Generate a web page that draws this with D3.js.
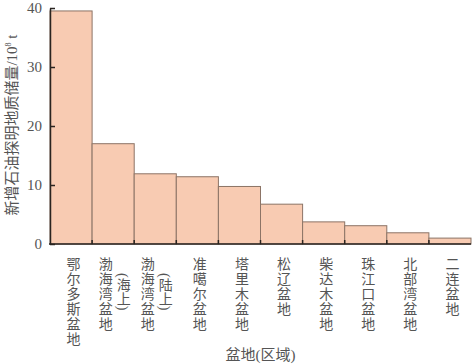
<!DOCTYPE html>
<html>
<head>
<meta charset="utf-8">
<script src="https://cdn.jsdelivr.net/npm/d3@7"></script>
<style>
    body { margin: 0; background: #fff; }
    svg { display: block; }
</style>
</head>
<body>
<div id="chart"></div>
<script>
// Data
const basins = ["鄂尔多斯盆地", "渤海湾盆地", "渤海湾盆地", "准噶尔盆地", "塔里木盆地",
    "松辽盆地", "柴达木盆地", "珠江口盆地", "北部湾盆地", "二连盆地"];
const subLabels = ["", "(海上)", "(陆上)", "", "", "", "", "", "", ""];
const reserves = [39.5, 17.0, 11.9, 11.4, 9.75, 6.75, 3.75, 3.1, 1.9, 1.0];
const yTicks = [0, 10, 20, 30, 40];

const colors = {
    bar: "#f8cbb2",
    barStroke: "#8c7466",
    axis: "#2a2420",
    text: "#555"
};

const W = 474, H = 364;
const margin = { top: 8, right: 3, bottom: 120, left: 50 };
const width = W - margin.left - margin.right;
const height = H - margin.top - margin.bottom;
const cjk = "'Liberation Serif', 'Noto Sans CJK SC', serif";

const svg = d3.select("#chart").append("svg")
    .attr("width", W)
    .attr("height", H)
    .append("g")
    .attr("transform", `translate(${margin.left},${margin.top})`);

const x = d3.scaleBand()
    .domain(d3.range(basins.length))
    .range([0, width])
    .padding(0);

const y = d3.scaleLinear()
    .domain([0, 40])
    .range([height, 0]);

// Bars
svg.selectAll("rect.bar")
    .data(reserves)
    .join("rect")
    .attr("class", "bar")
    .attr("x", (d, i) => x(i))
    .attr("y", d => y(d))
    .attr("width", x.bandwidth())
    .attr("height", d => height - y(d))
    .attr("fill", colors.bar)
    .attr("stroke", colors.barStroke)
    .attr("stroke-width", 1);

// Y axis (ticks inward)
const yAxis = svg.append("g")
    .call(d3.axisLeft(y).tickValues(yTicks).tickSizeInner(-5).tickSizeOuter(0).tickPadding(8));
yAxis.select(".domain").attr("stroke", colors.axis).attr("stroke-width", 1.5);
yAxis.selectAll(".tick line").attr("stroke", colors.axis).attr("stroke-width", 1.5);
yAxis.selectAll(".tick text")
    .attr("fill", colors.text)
    .style("font-family", "'Liberation Serif', serif")
    .style("font-size", "15px");

// X axis baseline with boundary ticks
svg.append("line")
    .attr("x1", -1).attr("x2", width)
    .attr("y1", height).attr("y2", height)
    .attr("stroke", colors.axis)
    .attr("stroke-width", 1.5);

svg.selectAll("line.xtick")
    .data(d3.range(1, basins.length))
    .join("line")
    .attr("class", "xtick")
    .attr("x1", i => x(i)).attr("x2", i => x(i))
    .attr("y1", height).attr("y2", height - 4)
    .attr("stroke", colors.axis)
    .attr("stroke-width", 1.5);

// Vertical category labels
const labelTop = height + 13;
svg.selectAll("text.cat")
    .data(basins)
    .join("text")
    .attr("class", "cat")
    .attr("x", (d, i) => x(i) + x.bandwidth() / 2 + (subLabels[i] ? -9 : 1))
    .attr("y", labelTop)
    .style("writing-mode", "vertical-rl")
    .style("font-family", cjk)
    .style("font-size", "14px")
    .style("letter-spacing", "1px")
    .attr("fill", colors.text)
    .text(d => d);

svg.selectAll("text.sub")
    .data(subLabels)
    .join("text")
    .attr("class", "sub")
    .attr("x", (d, i) => x(i) + x.bandwidth() / 2 + 9)
    .attr("y", labelTop + 16)
    .style("writing-mode", "vertical-rl")
    .style("font-family", cjk)
    .style("font-size", "14px")
    .attr("fill", colors.text)
    .text(d => d);

// Axis titles
svg.append("text")
    .attr("x", width / 2)
    .attr("y", H - margin.top - 4)
    .attr("text-anchor", "middle")
    .style("font-family", cjk)
    .style("font-size", "15px")
    .attr("fill", colors.text)
    .text("盆地(区域)");

const yTitle = svg.append("text")
    .attr("transform", "rotate(-90)")
    .attr("x", -height / 2 + 1)
    .attr("y", -margin.left + 17)
    .attr("text-anchor", "middle")
    .style("font-family", cjk)
    .style("font-size", "15px")
    .attr("fill", colors.text);
yTitle.append("tspan").text("新增石油探明地质储量/10");
yTitle.append("tspan").attr("dy", -6).style("font-size", "8px").text("8");
yTitle.append("tspan").attr("dy", 6).text(" t");
</script>
</body>
</html>
